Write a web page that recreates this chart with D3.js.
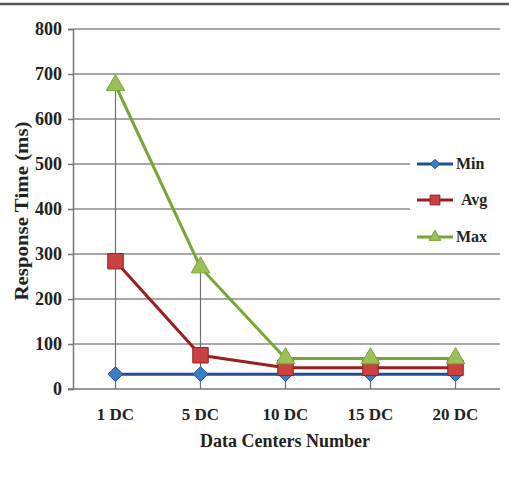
<!DOCTYPE html>
<html lang="en">
  <head>
    <meta charset="UTF-8" />
    <title>Response Time</title>
    <style>
      body { margin: 0; background: #fff; }
      text { font-family: "Liberation Serif", "DejaVu Serif", serif; font-weight: bold; fill: #222; }
    </style>
  </head>
  <body>
    <svg id="container" width="509" height="481"></svg>
  </body>
  <script src="https://cdn.jsdelivr.net/npm/d3@7"></script>
  <script>
    const categories = ["1 DC", "5 DC", "10 DC", "15 DC", "20 DC"];
    const minValues = [33, 33, 33, 33, 33];
    const avgValues = [284, 75, 47, 47, 47];
    const maxValues = [675, 270, 68, 68, 68];
    const yTicks = [0, 100, 200, 300, 400, 500, 600, 700, 800];

    // diamond as a square turned 45 degrees
    const diamond = {
      draw(ctx, size) {
        const r = Math.sqrt(size / 2);
        ctx.moveTo(0, -r);
        ctx.lineTo(r, 0);
        ctx.lineTo(0, r);
        ctx.lineTo(-r, 0);
        ctx.closePath();
      }
    };

    const series = [
      { name: "Min", values: minValues, line: "#1f4e96", fill: "#3d7cc9", shape: diamond, size: 110 },
      { name: "Avg", values: avgValues, line: "#9a1f1f", fill: "#c9423f", shape: d3.symbolSquare, size: 240 },
      { name: "Max", values: maxValues, line: "#77a636", fill: "#9bc05a", shape: d3.symbolTriangle, size: 150 }
    ];

    const svg = d3.select("#container");

    // rule across the top of the figure
    svg.append("line")
      .attr("x1", 0).attr("x2", 509).attr("y1", 4).attr("y2", 4)
      .attr("stroke", "#555").attr("stroke-width", 2.5);

    const x = d3.scaleBand().domain(categories).range([73, 498]);
    const y = d3.scaleLinear().domain([0, 800]).range([389, 29]);

    // gridlines
    svg.append("g")
      .selectAll("line")
      .data(yTicks.slice(1))
      .enter()
      .append("line")
      .attr("x1", 73).attr("x2", 500)
      .attr("y1", (d) => y(d)).attr("y2", (d) => y(d))
      .attr("stroke", "#8a8a8a").attr("stroke-width", 1.5);

    // y axis
    const yAxis = svg.append("g")
      .attr("transform", "translate(73,0)")
      .call(d3.axisLeft(y).tickValues(yTicks).tickSize(5).tickPadding(6));
    yAxis.select(".domain").attr("stroke", "#777").attr("stroke-width", 1.5);
    yAxis.selectAll(".tick line").attr("stroke", "#777").attr("stroke-width", 1.5);
    yAxis.selectAll("text").attr("font-size", 18).attr("fill", "#222");

    // x axis line
    svg.append("line")
      .attr("x1", 68).attr("x2", 500).attr("y1", y(0)).attr("y2", y(0))
      .attr("stroke", "#777").attr("stroke-width", 1.5);

    const xAxis = svg.append("g")
      .attr("transform", "translate(0," + y(0) + ")")
      .call(d3.axisBottom(x).tickSize(0).tickPadding(19));
    xAxis.select(".domain").remove();
    xAxis.selectAll("text").attr("font-size", 17).attr("fill", "#222");

    // drop lines from max to axis
    svg.append("g")
      .selectAll("line")
      .data(categories)
      .enter()
      .append("line")
      .attr("x1", (d) => x(d) + x.bandwidth() / 2)
      .attr("x2", (d) => x(d) + x.bandwidth() / 2)
      .attr("y1", (d, i) => y(maxValues[i]))
      .attr("y2", y(0))
      .attr("stroke", "#707070").attr("stroke-width", 1.2);

    const line = d3.line()
      .x((d, i) => x(categories[i]) + x.bandwidth() / 2)
      .y((d) => y(d));

    series.forEach((s) => {
      svg.append("path")
        .datum(s.values)
        .attr("d", line)
        .attr("fill", "none")
        .attr("stroke", s.line)
        .attr("stroke-width", 3);
      svg.append("g")
        .selectAll("path")
        .data(s.values)
        .enter()
        .append("path")
        .attr("d", d3.symbol().type(s.shape).size(s.size))
        .attr("transform", (d, i) => "translate(" + (x(categories[i]) + x.bandwidth() / 2) + "," + y(d) + ")")
        .attr("fill", s.fill)
        .attr("stroke", s.line)
        .attr("stroke-width", 1);
    });

    // legend
    const legend = svg.append("g");
    legend.append("rect")
      .attr("x", 410).attr("y", 148).attr("width", 92).attr("height", 98)
      .attr("fill", "#fff");
    const legendY = [164, 200, 237];
    const legendX = [456, 461, 456];
    series.forEach((s, i) => {
      legend.append("line")
        .attr("x1", 417).attr("x2", 453)
        .attr("y1", legendY[i]).attr("y2", legendY[i])
        .attr("stroke", s.line).attr("stroke-width", 3);
      legend.append("path")
        .attr("d", d3.symbol().type(s.shape).size(s.size * 0.4))
        .attr("transform", "translate(435," + legendY[i] + ")")
        .attr("fill", s.fill).attr("stroke", s.line);
      legend.append("text")
        .attr("x", legendX[i]).attr("y", legendY[i] + 5)
        .attr("font-size", 16)
        .text(s.name);
    });

    // axis titles
    svg.append("text")
      .attr("transform", "translate(28,211) rotate(-90) scale(1.1,1)")
      .attr("text-anchor", "middle")
      .attr("font-size", 19)
      .text("Response Time (ms)");

    svg.append("text")
      .attr("x", 285).attr("y", 447)
      .attr("text-anchor", "middle")
      .attr("font-size", 18)
      .text("Data Centers Number");
  </script>
</html>
